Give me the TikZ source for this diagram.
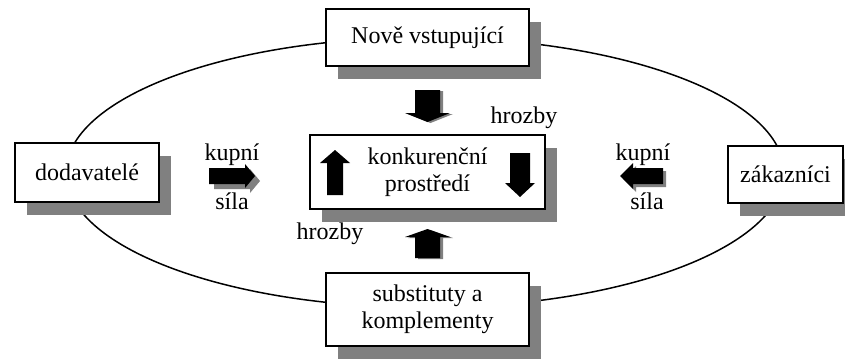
\documentclass[tikz,border=0pt]{standalone}
\usepackage{fontspec}
\setmainfont{Liberation Serif}
\usetikzlibrary{shadows}

% block arrow: tail centre (#1,#2), rotation #3, length #4, head length #5,
% shaft half width #6, head half width #7
\newcommand\blockarr[7]{%
  \fill[shift={(#1,#2)}, rotate=#3]
    (-#6,0) -- (#6,0) -- (#6,#4-#5) -- (#7,#4-#5) -- (0,#4)
    -- (-#7,#4-#5) -- (-#6,#4-#5) -- cycle;}

\definecolor{shadowgray}{RGB}{128,128,128}
\tikzset{
  boxnode/.style={draw=black, line width=1.6pt, fill=white, inner sep=0pt,
    align=center, font=\fontsize{24}{27}\selectfont,
    drop shadow={shadow xshift=12pt, shadow yshift=-13pt, fill=shadowgray, opacity=1}},
  lbl/.style={inner sep=0pt, font=\fontsize{24}{27}\selectfont}
}

\begin{document}
\begin{tikzpicture}[x=1pt, y=-1pt]
\useasboundingbox (0,0) rectangle (845,359);

% outer ring
\draw[line width=1.5pt] (425,172.5) ellipse [x radius=359pt, y radius=135pt];

% boxes
\node[boxnode, minimum width=203pt, minimum height=57pt] (nove) at (427.5,37.5) {Nově vstupující};
\node[boxnode, minimum width=203pt, minimum height=73pt] (subst) at (427.5,309.5) {substituty a\\komplementy};
\node[boxnode, minimum width=144pt, minimum height=59pt] (dod) at (87,172.5) {dodavatelé};
\node[boxnode, minimum width=115pt, minimum height=57pt] (zak) at (785.5,174.5) {zákazníci};
\node[boxnode, minimum width=235pt, minimum height=74pt] (konk) at (427.5,172) {konkurenční\\prostředí};

% vertical arrows
\begin{scope}[fill=shadowgray]
  \blockarr{430.5}{91}{0}{32}{9}{12.5}{22.5}
  \blockarr{430.5}{259}{180}{29}{8}{12.5}{22.5}
\end{scope}
\blockarr{427.5}{90}{0}{32}{9}{12.5}{22.5}
\blockarr{427.5}{258}{180}{29}{8}{12.5}{22.5}
\blockarr{335}{195}{180}{45}{13}{8}{15}
\blockarr{520}{153}{0}{44}{14}{10}{15}

% horizontal arrows
\begin{scope}[fill=shadowgray]
  \blockarr{214}{181}{90}{46}{10}{8}{12}
  \blockarr{666}{179}{-90}{43}{13}{8}{13}
\end{scope}
\blockarr{209}{176}{90}{46}{10}{8}{12}
\blockarr{663}{176}{-90}{43}{13}{8}{13}

% labels
\node[lbl] (k1) at (232,155) {kupní};
\node[lbl] (s1) at (232,201) {síla};
\node[lbl] (k2) at (643,155) {kupní};
\node[lbl] (s2) at (647,201) {síla};
\node[lbl] (h1) at (524,118) {hrozby};
\node[lbl] (h2) at (330,234) {hrozby};
\end{tikzpicture}
\end{document}
